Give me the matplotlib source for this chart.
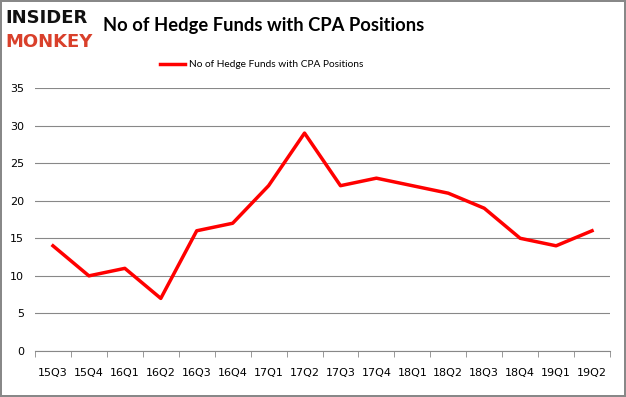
import numpy as np
import matplotlib.pyplot as plt

quarters = ['15Q3', '15Q4', '16Q1', '16Q2', '16Q3', '16Q4', '17Q1', '17Q2',
            '17Q3', '17Q4', '18Q1', '18Q2', '18Q3', '18Q4', '19Q1', '19Q2']
funds = [14, 10, 11, 7, 16, 17, 22, 29, 22, 23, 22, 21, 19, 15, 14, 16]
yticks = [0, 5, 10, 15, 20, 25, 30, 35]

narrow = ['Liberation Sans Narrow', 'Lato', 'DejaVu Sans']

fig = plt.figure(figsize=(6.26, 3.97), dpi=100)
fig.patch.set_edgecolor('#888888')
fig.patch.set_linewidth(1.5)

ax = fig.add_axes([35/626, 46/397, 575/626, 263/397])
x = np.arange(len(quarters))
ax.plot(x, funds, color='#ff0000', lw=2.5, label='No of Hedge Funds with CPA Positions')

ax.set_xlim(-0.5, len(quarters) - 0.5)
ax.set_ylim(0, 35)
ax.set_yticks(yticks)
ax.set_xticks(x)
ax.set_xticklabels(quarters, fontsize=8, family='DejaVu Sans')
ax.set_xticks(np.arange(-0.5, len(quarters), 1), minor=True)
ax.tick_params(axis='x', which='major', length=0, pad=12)
ax.tick_params(axis='x', which='minor', length=4, color='#888888')
ax.tick_params(axis='y', length=0, labelsize=8, pad=8)
ax.grid(axis='y', color='#888888', lw=0.8)
ax.set_axisbelow(True)
for s in ['top', 'right', 'left']:
    ax.spines[s].set_visible(False)
ax.spines['bottom'].set_color('#888888')

ax.legend(loc='upper center', bbox_to_anchor=(0.394, 1.14), frameon=False,
          prop={'family': narrow, 'size': 7.3}, handlelength=2.4, handletextpad=0.4)

fig.text(0.165, 0.935, 'No of Hedge Funds with CPA Positions', fontsize=13.2,
         fontweight='bold', va='center', ha='left', family=narrow)
fig.text(0.008, 0.955, 'INSIDER', fontsize=13, fontweight='heavy', color='#111111',
         va='center', ha='left')
fig.text(0.008, 0.895, 'MONKEY', fontsize=13, fontweight='heavy', color='#d9402b',
         va='center', ha='left')

fig.savefig('out.png', dpi=100, edgecolor=fig.get_edgecolor())
